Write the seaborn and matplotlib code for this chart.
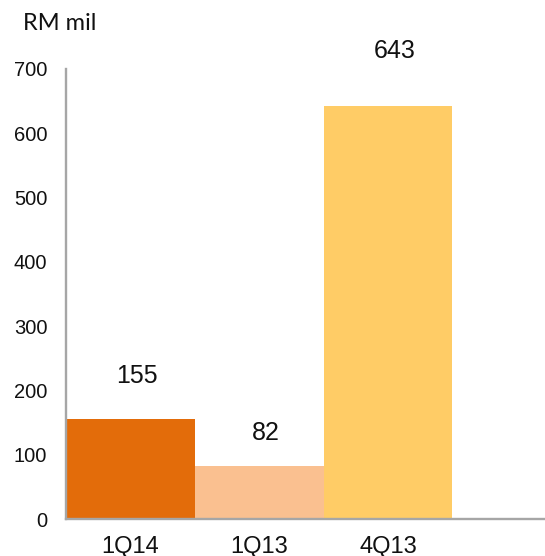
import pandas as pd
import matplotlib
matplotlib.use("Agg")
import matplotlib.pyplot as plt
import seaborn as sns

# datos del gráfico
trimestres = ["1Q14", "1Q13", "4Q13"]
valores = [155, 82, 643]
colores = ["#E36C0A", "#FAC090", "#FFCC66"]
# altura (en unidades del eje) donde va cada etiqueta de valor
altura_etiqueta = [222, 134, 728]

df = pd.DataFrame({"trimestre": trimestres, "valor": valores})

sns.set_theme(style="white")
plt.rcParams["font.family"] = ["Liberation Sans", "DejaVu Sans"]

fig = plt.figure(figsize=(5.45, 5.56), dpi=100)
ax = fig.add_axes([0.1211, 0.0665, 0.877, 0.8095])

sns.barplot(
    data=df, x="trimestre", y="valor", hue="trimestre",
    palette=dict(zip(trimestres, colores)), width=1.0,
    legend=False, saturation=1, linewidth=0, ax=ax,
)

for i, (v, h) in enumerate(zip(valores, altura_etiqueta)):
    ax.text(i + 0.05, h, str(v), ha="center", va="center", fontsize=18,
            color="#111111", clip_on=False)

ax.set_xlim(-0.5, 3.21)
ax.set_ylim(0, 700)
ax.set_yticks(range(0, 701, 100))
ax.set_xlabel("")
ax.set_ylabel("")
ax.tick_params(axis="both", length=0, colors="#111111")
ax.tick_params(axis="y", labelsize=14.5, pad=13.5)
ax.tick_params(axis="x", labelsize=17, pad=12.5)

for lado in ["top", "right"]:
    ax.spines[lado].set_visible(False)
for lado in ["left", "bottom"]:
    ax.spines[lado].set_color("#A6A6A6")
    ax.spines[lado].set_linewidth(1.7)

fig.text(23 / 545, 1 - 23 / 556, "RM mil", fontsize=17, family=["Lato", "DejaVu Sans"],
         ha="left", va="center", color="#111111")

fig.savefig("out.png", dpi=100)
